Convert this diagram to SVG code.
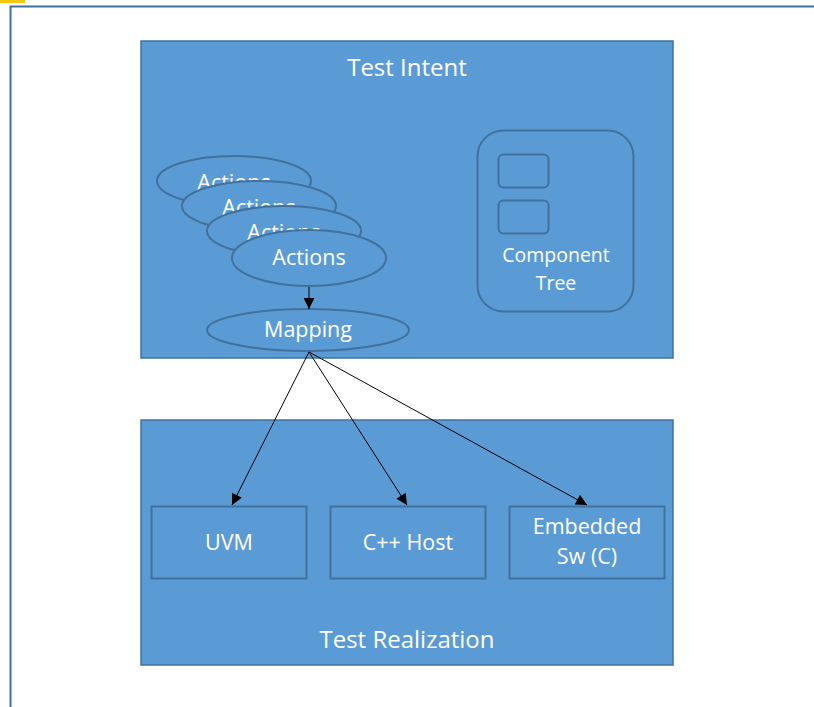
<svg xmlns="http://www.w3.org/2000/svg" width="814" height="707" viewBox="0 0 814 707">
  <style>
    .box { fill: #5B9BD5; stroke: #41719C; stroke-width: 1.5; }
    .inner { fill: #5B9BD5; stroke: #41719C; stroke-width: 2; }
    .lbl { fill: #FFFFFF; font-family: "Open Sans", "Liberation Sans", sans-serif; font-size: 21.5px; text-anchor: middle; }
    .small { font-size: 19.5px; }
    .title { font-size: 24px; }
    .conn { stroke: #000000; stroke-width: 1; fill: none; marker-end: url(#arrow); }
  </style>
  <defs>
    <marker id="arrow" viewBox="0 0 10 10" refX="10" refY="5" markerWidth="13" markerHeight="11" markerUnits="userSpaceOnUse" orient="auto">
      <path d="M0,0 L10,5 L0,10 Z" fill="#000000"/>
    </marker>
  </defs>

  <rect x="0" y="0" width="814" height="707" fill="#FFFFFF"/>
  <!-- page frame -->
  <rect x="0" y="0" width="25" height="3" fill="#F2C811"/>
  <path d="M10.5,707 L10.5,6.5 L814,6.5" fill="none" stroke="#41719C" stroke-width="2"/>

  <g id="test-intent">
    <rect class="box" x="141" y="41" width="532" height="317"/>
    <text class="lbl title" x="407" y="76">Test Intent</text>
  </g>

  <g id="test-realization">
    <rect class="box" x="141" y="420" width="532" height="245"/>
    <text class="lbl title" x="407" y="648">Test Realization</text>
  </g>

  <!-- stacked action ellipses, each one hides the lower part of the previous label -->
  <g id="actions-1">
    <ellipse class="inner" cx="234" cy="181" rx="77" ry="25"/>
    <text class="lbl" x="234" y="190">Actions</text>
  </g>
  <g id="actions-2">
    <ellipse class="inner" cx="259" cy="206" rx="77" ry="25"/>
    <text class="lbl" x="259" y="215">Actions</text>
  </g>
  <g id="actions-3">
    <ellipse class="inner" cx="284" cy="231" rx="77" ry="25"/>
    <text class="lbl" x="284" y="240">Actions</text>
  </g>
  <g id="actions-4">
    <ellipse class="inner" cx="309" cy="258" rx="77" ry="28"/>
    <text class="lbl" x="309" y="265">Actions</text>
  </g>

  <g id="mapping">
    <ellipse class="inner" cx="308" cy="330" rx="101" ry="21"/>
    <text class="lbl" x="308" y="337">Mapping</text>
  </g>

  <g id="component-tree">
    <rect class="inner" x="477.5" y="130.5" width="156" height="181" rx="26"/>
    <rect class="inner" x="498.5" y="154.5" width="50" height="33" rx="5"/>
    <rect class="inner" x="498.5" y="200.5" width="50" height="33" rx="5"/>
    <text class="lbl small" x="556" y="262">Component</text>
    <text class="lbl small" x="556" y="290">Tree</text>
  </g>

  <g id="uvm">
    <rect class="inner" x="151.5" y="506.5" width="155" height="72"/>
    <text class="lbl" x="229" y="550">UVM</text>
  </g>
  <g id="cpp-host">
    <rect class="inner" x="330.5" y="506.5" width="155" height="72"/>
    <text class="lbl" x="408" y="550">C++ Host</text>
  </g>
  <g id="embedded-sw">
    <rect class="inner" x="509.5" y="506.5" width="155" height="72"/>
    <text class="lbl" x="587" y="534">Embedded</text>
    <text class="lbl" x="587" y="564">Sw (C)</text>
  </g>

  <g id="connectors">
    <line class="conn" x1="309" y1="287" x2="309" y2="309"/>
    <line class="conn" x1="309" y1="352" x2="232" y2="505"/>
    <line class="conn" x1="309" y1="352" x2="407" y2="505"/>
    <line class="conn" x1="309" y1="352" x2="587" y2="505"/>
  </g>
</svg>
